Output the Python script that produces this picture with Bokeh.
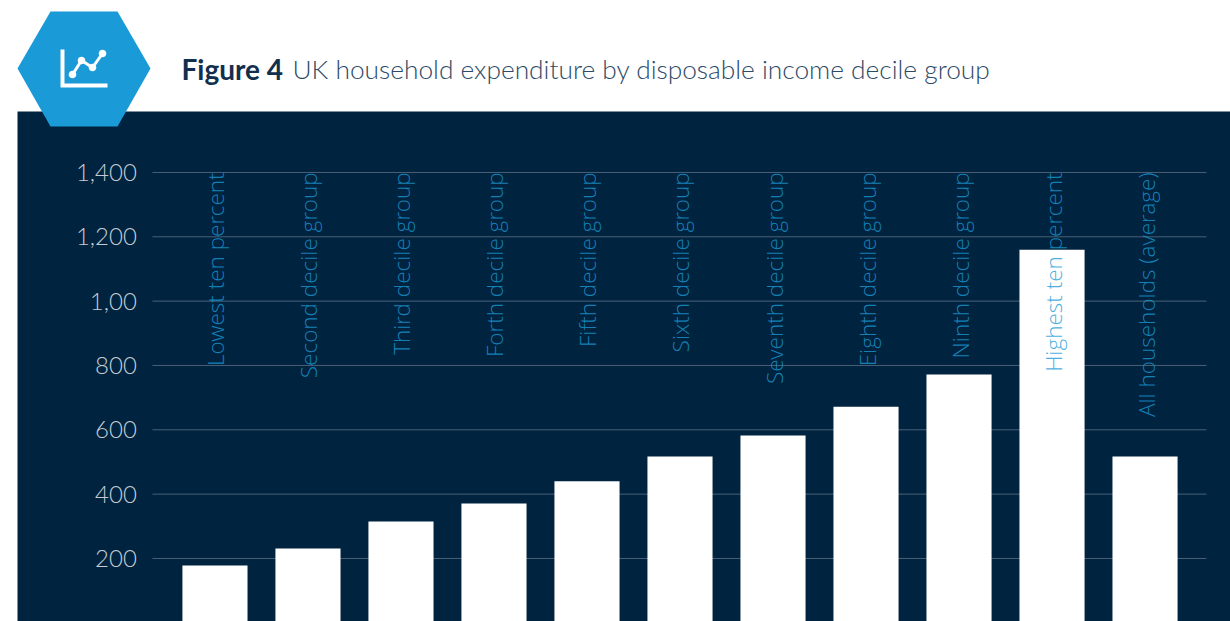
from math import pi

import numpy as np
from bokeh.core.properties import value
from bokeh.embed import file_html
from bokeh.models import BoxAnnotation, ColumnDataSource, Label, PolyAnnotation, Range1d
from bokeh.plotting import figure
from bokeh.resources import INLINE

categories = ["Lowest ten percent", "Second decile group", "Third decile group",
              "Forth decile group", "Fifth decile group", "Sixth decile group",
              "Seventh decile group", "Eighth decile group", "Ninth decile group",
              "Highest ten percent", "All households (average)"]
expenditure = [178, 231, 315, 371, 440, 517, 582, 672, 772, 1160, 517]
tick_values = [200, 400, 600, 800, 1000, 1200, 1400]
tick_labels = ["200", "400", "600", "800", "1,00", "1,200", "1,400"]

NAVY = "#00233f"
BLUE = "#1a9ad6"
LIGHT = "Lato Light"
ROTATED = "Open Sans Light"

# One unit on x is one bar slot, so the frame can fill the whole page
p = figure(x_range=Range1d(-2.306, 10.919), y_range=Range1d(4, 1934.6), width=1230, height=621,
           output_backend="svg", toolbar_location=None, min_border=0)
p.background_fill_color = "white"
p.border_fill_color = "white"
p.outline_line_color = None
p.xaxis.visible = False
p.yaxis.visible = False
p.grid.visible = False

p.add_layout(BoxAnnotation(left=17, right=1230, top=111, bottom=621,
                           left_units="canvas", right_units="canvas",
                           top_units="canvas", bottom_units="canvas",
                           fill_color=NAVY, fill_alpha=1, line_color=None, level="image"))

slots = list(range(len(categories)))
grid = ColumnDataSource(dict(x0=[-0.672] * len(tick_values), x1=[10.661] * len(tick_values),
                             y=tick_values, label=tick_labels, lx=[-0.84] * len(tick_values)))
p.segment(x0="x0", x1="x1", y0="y", y1="y", source=grid, line_color="#4a6178", line_width=1)
p.text(x="lx", y="y", text="label", source=grid, text_align="right", text_baseline="middle",
       text_font=value(LIGHT), text_font_size="24px", text_color="#c3ccd4")

bars = ColumnDataSource(dict(x=slots, spend=expenditure, name=categories,
                             top=[1400] * len(categories)))
p.vbar(x="x", top="spend", bottom=0, width=0.7, source=bars, fill_color="white", line_color=None)
p.text(x="x", y="top", text="name", source=bars, angle=pi / 2,
       text_align="right", text_baseline="middle", x_offset=1,
       text_font=value(ROTATED), text_font_size="22.5px", text_color=BLUE, text_alpha=0.8)

# Hexagon badge with its small line-chart icon
def badge_shape(xs, ys, color):
    p.add_layout(PolyAnnotation(xs=list(xs), ys=list(ys), xs_units="canvas", ys_units="canvas",
                                fill_color=color, fill_alpha=1, line_color=None))

badge_shape([17, 50, 117, 150, 117, 50], [68, 11, 11, 68, 126, 126], BLUE)
badge_shape([60, 64, 64, 107, 107, 60], [49, 49, 83, 83, 87, 87], "white")
dots = [(72, 74), (81, 60), (92, 67), (102, 53)]
for (x0, y0), (x1, y1) in zip(dots[:-1], dots[1:]):
    nx, ny = (y1 - y0), -(x1 - x0)
    n = np.hypot(nx, ny) / 1.5
    nx, ny = nx / n, ny / n
    badge_shape([x0 + nx, x1 + nx, x1 - nx, x0 - nx], [y0 + ny, y1 + ny, y1 - ny, y0 - ny], "white")
angles = np.linspace(0, 2 * pi, 17)[:-1]
for cx, cy in dots:
    badge_shape(cx + 3.8 * np.cos(angles), cy + 3.8 * np.sin(angles), "white")

p.add_layout(Label(x=181, y=68, x_units="canvas", y_units="canvas", text="Figure 4",
                   text_font="Lato", text_font_style="bold", text_font_size="28px",
                   text_color="#12304d", text_baseline="middle"))
p.add_layout(Label(x=292, y=68, x_units="canvas", y_units="canvas",
                   text="UK household expenditure by disposable income decile group",
                   text_font=LIGHT, text_font_size="26.3px",
                   text_color="#2d4a66", text_baseline="middle"))

open("out.html", "w").write(file_html(p, INLINE))
